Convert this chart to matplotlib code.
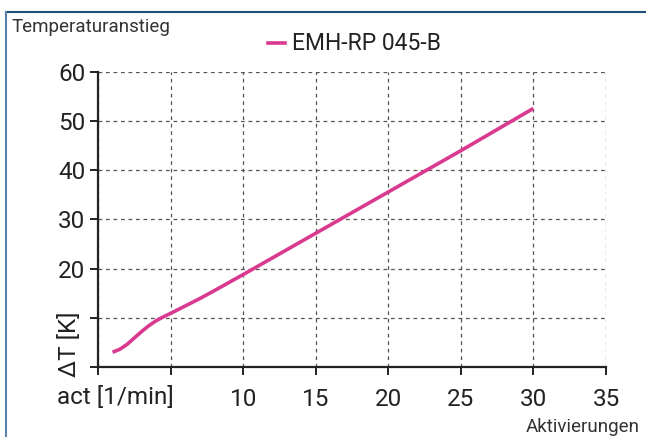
import matplotlib
matplotlib.use("Agg")
import matplotlib.pyplot as plt
from matplotlib.lines import Line2D

plt.rcParams['font.family'] = ['Roboto', 'DejaVu Sans']

x_vals = [1, 1.5, 2, 2.5, 3, 3.5, 4, 4.5, 5, 6, 7, 8, 10, 15, 20, 25, 30]
y_vals = [3.0, 3.6, 4.6, 5.9, 7.2, 8.4, 9.4, 10.2, 10.9, 12.4, 13.9, 15.5, 18.8, 27.2, 35.6, 44.0, 52.6]
x_ticks = [0, 5, 10, 15, 20, 25, 30, 35]
x_labels = ['', '', '10', '15', '20', '25', '30', '35']
y_ticks = [0, 10, 20, 30, 40, 50, 60]
y_labels = ['', '', '20', '30', '40', '50', '60']
series_name = 'EMH-RP 045-B'
title = 'Temperaturanstieg'
x_unit = 'act [1/min]'
y_unit = 'ΔT [K]'
x_caption = 'Aktivierungen'

color = '#d93a8f'
text_col = '#222222'

W, H = 646, 437
fig = plt.figure(figsize=(W / 100, H / 100), dpi=100)
ax = fig.add_axes([98 / W, 1 - 367 / H, (606 - 98) / W, (367 - 72) / H])

ax.plot(x_vals, y_vals, color=color, lw=2.6, solid_capstyle='butt', solid_joinstyle='round')

ax.set_xlim(0, 35)
ax.set_ylim(0, 60)
ax.set_xticks(x_ticks)
ax.set_xticklabels(x_labels)
ax.set_yticks(y_ticks)
ax.set_yticklabels(y_labels)
ax.grid(True, color='#555555', lw=0.9, linestyle=(0, (3, 3)))
ax.set_axisbelow(True)
for s in ['top', 'right']:
    ax.spines[s].set_visible(False)
for s in ['left', 'bottom']:
    ax.spines[s].set_linewidth(1.6)
    ax.spines[s].set_color(text_col)
ax.tick_params(axis='both', direction='out', length=6, width=1.4, color=text_col,
               labelsize=17.5, labelcolor=text_col)
ax.tick_params(axis='x', pad=9)
ax.tick_params(axis='y', pad=3)

fig.text(115 / W, 1 - 397 / H, x_unit, ha='center', va='center', fontsize=17.5, color=text_col)
fig.text(70 / W, 1 - 344 / H, y_unit, ha='center', va='center', rotation=90, fontsize=17.5, color=text_col)
fig.text(12 / W, 1 - 27 / H, title, ha='left', va='center', fontsize=13.5, color='#333333')
fig.text(640 / W, 1 - 427 / H, x_caption, ha='right', va='center', fontsize=13.5, color='#333333')

# legend
fig.add_artist(Line2D([268 / W, 285 / W], [1 - 43 / H, 1 - 43 / H], color=color, lw=2.6,
                      transform=fig.transFigure))
fig.text(292 / W, 1 - 43 / H, series_name, ha='left', va='center', fontsize=16.5, color=text_col)

# frame
fig.add_artist(Line2D([6 / W, 1.0], [1 - 12 / H, 1 - 12 / H], color='#1f4e7a', lw=1.5,
                      transform=fig.transFigure))
fig.add_artist(Line2D([6 / W, 6 / W], [0, 1 - 12 / H], color='#5a84ad', lw=1.5,
                      transform=fig.transFigure))

fig.savefig('out.png', dpi=100)
